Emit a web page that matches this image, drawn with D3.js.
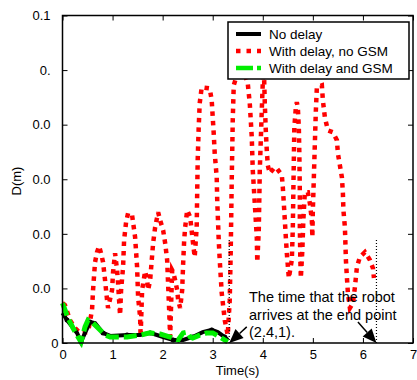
<!DOCTYPE html>
<html><head><meta charset="utf-8">
<script src="https://cdn.jsdelivr.net/npm/d3@7"></script>
<style>body{margin:0;background:#fff}svg{display:block;font-family:"Liberation Sans",Arial,sans-serif}</style>
</head><body><svg id="c" width="417" height="380"></svg>
<script>
const xTicks=[0,1,2,3,4,5,6,7];
const yTicks=[0,0.02,0.04,0.06,0.08,0.10,0.12];
const yTickLabels=["0","0.0","0.0","0.0","0.0","0.","0.1"];
const seriesNames=["No delay","With delay, no GSM","With delay and GSM"];
const noDelay=[[0,.0110],[.09,.0084],[.29,.0037],[.37,.0004],[.45,.0037],[.55,.0077],[.65,.0073],[.81,.0037],[.95,.0026],[1.29,.0029],[1.55,.0029],[1.75,.0037],[2.01,.0022],[2.21,.0011],[2.41,.0011],[2.60,.0022],[2.80,.0040],[2.98,.0048],[3.10,.0040],[3.24,.0022],[3.30,.0011]];
const delayNoGSM=[[0,.0146],[.05,.0139],[.15,.0084],[.25,.0055],[.35,.0037],[.51,.0040],[.59,.0121],[.61,.0194],[.65,.0296],[.69,.0333],[.73,.0355],[.77,.0329],[.81,.0296],[.85,.0230],[.89,.0157],[.91,.0128],[.99,.0194],[1.01,.0260],[1.05,.0329],[1.09,.0267],[1.11,.0220],[1.13,.0157],[1.15,.0102],[1.17,.0194],[1.21,.0278],[1.23,.0377],[1.27,.0443],[1.31,.0476],[1.39,.0468],[1.45,.0388],[1.49,.0278],[1.51,.0168],[1.55,.0095],[1.56,.0022],[1.59,.0194],[1.65,.0263],[1.69,.0230],[1.71,.0194],[1.75,.0230],[1.81,.0366],[1.85,.0424],[1.91,.0479],[1.95,.0450],[2.01,.0413],[2.05,.0366],[2.09,.0304],[2.11,.0212],[2.13,.0121],[2.15,.0022],[2.19,.0267],[2.21,.0260],[2.25,.0230],[2.29,.0194],[2.31,.0157],[2.35,.0128],[2.39,.0194],[2.41,.0293],[2.43,.0377],[2.45,.0424],[2.49,.0487],[2.55,.0461],[2.60,.0377],[2.64,.0315],[2.68,.0424],[2.69,.0549],[2.70,.0670],[2.72,.0790],[2.74,.0878],[2.78,.0937],[2.94,.0933],[2.98,.0889],[3.02,.0768],[3.04,.0695],[3.08,.0607],[3.09,.0523],[3.12,.0377],[3.14,.0304],[3.18,.0183],[3.24,.0084],[3.30,.0029],[3.34,.0157],[3.36,.0340],[3.38,.0596],[3.40,.0816],[3.42,.0944],[3.56,.1030],[3.70,.0951],[3.74,.0878],[3.78,.0754],[3.80,.0633],[3.84,.0512],[3.88,.0388],[3.89,.0296],[3.92,.0413],[3.94,.0633],[3.98,.0852],[4.00,.0955],[4.02,.1017],[4.04,.0878],[4.06,.0779],[4.08,.0706],[4.10,.0651],[4.14,.0622],[4.24,.0644],[4.28,.0640],[4.38,.0615],[4.40,.0571],[4.42,.0512],[4.44,.0450],[4.46,.0388],[4.48,.0329],[4.52,.0238],[4.58,.0304],[4.60,.0424],[4.61,.0549],[4.62,.0670],[4.63,.0790],[4.66,.0863],[4.68,.0882],[4.70,.0863],[4.72,.0790],[4.73,.0695],[4.74,.0549],[4.74,.0424],[4.75,.0304],[4.76,.0238],[4.79,.0340],[4.81,.0450],[4.84,.0552],[4.90,.0552],[4.94,.0512],[4.98,.0450],[4.99,.0388],[5.00,.0487],[5.02,.0607],[5.04,.0732],[5.06,.0852],[5.08,.0937],[5.18,.0944],[5.20,.0889],[5.24,.0827],[5.30,.0779],[5.40,.0772],[5.48,.0743],[5.50,.0695],[5.54,.0651],[5.58,.0607],[5.60,.0549],[5.61,.0487],[5.64,.0424],[5.65,.0366],[5.66,.0304],[5.68,.0241],[5.70,.0183],[5.74,.0128],[5.80,.0146],[5.84,.0205],[5.88,.0278],[5.94,.0315],[6.04,.0333],[6.14,.0304],[6.20,.0274],[6.22,.0238]];
const delayGSM=[[0,.0146],[.05,.0121],[.11,.0091],[.21,.0055],[.31,.0022],[.37,.0004],[.45,.0059],[.51,.0084],[.61,.0073],[.71,.0055],[.85,.0029],[.95,.0022],[1.29,.0022],[1.55,.0029],[1.75,.0037],[1.95,.0033],[2.15,.0022],[2.31,.0011],[2.41,.0037],[2.49,.0040],[2.55,.0022],[2.60,.0018],[2.74,.0029],[2.88,.0037],[3.00,.0037],[3.14,.0022],[3.30,.0004]];
const arrivalTimes=[3.33,6.27];
const annotation=["The time that the robot","arrives at the end point","(2.4,1)."];

const svg=d3.select("#c");
const x=d3.scaleLinear().domain([0,7]).range([62.5,413]);
const y=d3.scaleLinear().domain([0,0.12]).range([343,15.5]);
const line=d3.line().x(d=>x(d[0])).y(d=>y(d[1]));

const g=svg.append("g");
g.append("g").attr("transform","translate(0,343)").call(d3.axisBottom(x).tickValues(xTicks).tickSizeInner(-5).tickSizeOuter(0).tickPadding(7).tickFormat(d3.format("d")))
 .call(a=>{a.select(".domain").remove();a.selectAll("text").attr("font-size",13).attr("font-family","Liberation Sans, Arial");});
g.append("g").attr("transform","translate(0,15.5)").call(d3.axisTop(x).tickValues(xTicks).tickSizeInner(-5).tickSizeOuter(0).tickFormat(""))
 .call(a=>a.select(".domain").remove());
g.append("g").attr("transform","translate(62.5,0)").call(d3.axisLeft(y).tickValues(yTicks).tickSizeInner(-5).tickSizeOuter(0).tickPadding(12).tickFormat((d,i)=>yTickLabels[i]))
 .call(a=>{a.select(".domain").remove();a.selectAll("text").attr("font-size",13).attr("font-family","Liberation Sans, Arial").attr("dx",(d,i)=>i===0?8:0);});
g.append("g").attr("transform","translate(413,0)").call(d3.axisRight(y).tickValues(yTicks).tickSizeInner(-5).tickSizeOuter(0).tickFormat(""))
 .call(a=>a.select(".domain").remove());

svg.append("path").datum(delayNoGSM).attr("d",line).attr("fill","none").attr("stroke","#ff0000").attr("stroke-width",4.5).attr("stroke-dasharray","4.5,5");
svg.append("path").datum(noDelay).attr("d",line).attr("fill","none").attr("stroke","#000").attr("stroke-width",4);
svg.selectAll(".mk").data(noDelay.filter((d,i)=>i%2===1)).enter().append("circle").attr("cx",d=>x(d[0])).attr("cy",d=>y(d[1])).attr("r",2.5).attr("fill","#000");
svg.append("path").datum(delayGSM).attr("d",line).attr("fill","none").attr("stroke","#00ee00").attr("stroke-width",5).attr("stroke-dasharray","13,5");

svg.append("rect").attr("x",62.5).attr("y",15.5).attr("width",413-62.5).attr("height",343-15.5).attr("fill","none").attr("stroke","#000").attr("stroke-width",1.5);

arrivalTimes.forEach(t=>{
  svg.append("line").attr("x1",x(t)).attr("x2",x(t)).attr("y1",y(0)).attr("y2",y(0.0377)).attr("stroke","#000").attr("stroke-width",1.2).attr("stroke-dasharray","1,2");
});
function arrow(t0,v0,t1,v1){
  const x0=x(t0),y0=y(v0),x1=x(t1),y1=y(v1);
  const ang=Math.atan2(y1-y0,x1-x0),L=14,W=6;
  const bx=x1-L*Math.cos(ang),by=y1-L*Math.sin(ang);
  svg.append("line").attr("x1",x0).attr("y1",y0).attr("x2",bx).attr("y2",by).attr("stroke","#000").attr("stroke-width",1.5);
  const px=-Math.sin(ang)*W,py=Math.cos(ang)*W;
  svg.append("path").attr("d",`M${x1},${y1}L${bx+px},${by+py}L${bx-px},${by-py}Z`).attr("fill","#000");
}
arrow(3.68,0.0059,arrivalTimes[0],0);
arrow(5.90,0.0077,arrivalTimes[1],0);

svg.append("g").selectAll("text").data(annotation).enter().append("text")
 .attr("x",249).attr("y",(d,i)=>302+i*17.5).attr("font-size",14.5).attr("fill","#000").text(d=>d);

const lg=svg.append("g");
lg.append("rect").attr("x",228).attr("y",22).attr("width",181).attr("height",57).attr("fill","#fff").attr("stroke","#000").attr("stroke-width",1.5);
const sty=[{c:"#000",w:4,da:null},{c:"#ff0000",w:4.5,da:"4.5,6"},{c:"#00ee00",w:4.5,da:"17,4"}];
seriesNames.forEach((n,i)=>{
  const yy=34+i*17;
  const l=lg.append("line").attr("x1",236).attr("x2",261).attr("y1",yy).attr("y2",yy).attr("stroke",sty[i].c).attr("stroke-width",sty[i].w);
  if(sty[i].da) l.attr("stroke-dasharray",sty[i].da);
  lg.append("text").attr("x",269).attr("y",yy+5).attr("font-size",13.5).text(n);
});

svg.append("text").attr("x",237.5).attr("y",375).attr("text-anchor","middle").attr("font-size",13).text("Time(s)");
svg.append("text").attr("transform","translate(21,181) rotate(-90)").attr("text-anchor","middle").attr("font-size",13).text("D(m)");
</script></body></html>
